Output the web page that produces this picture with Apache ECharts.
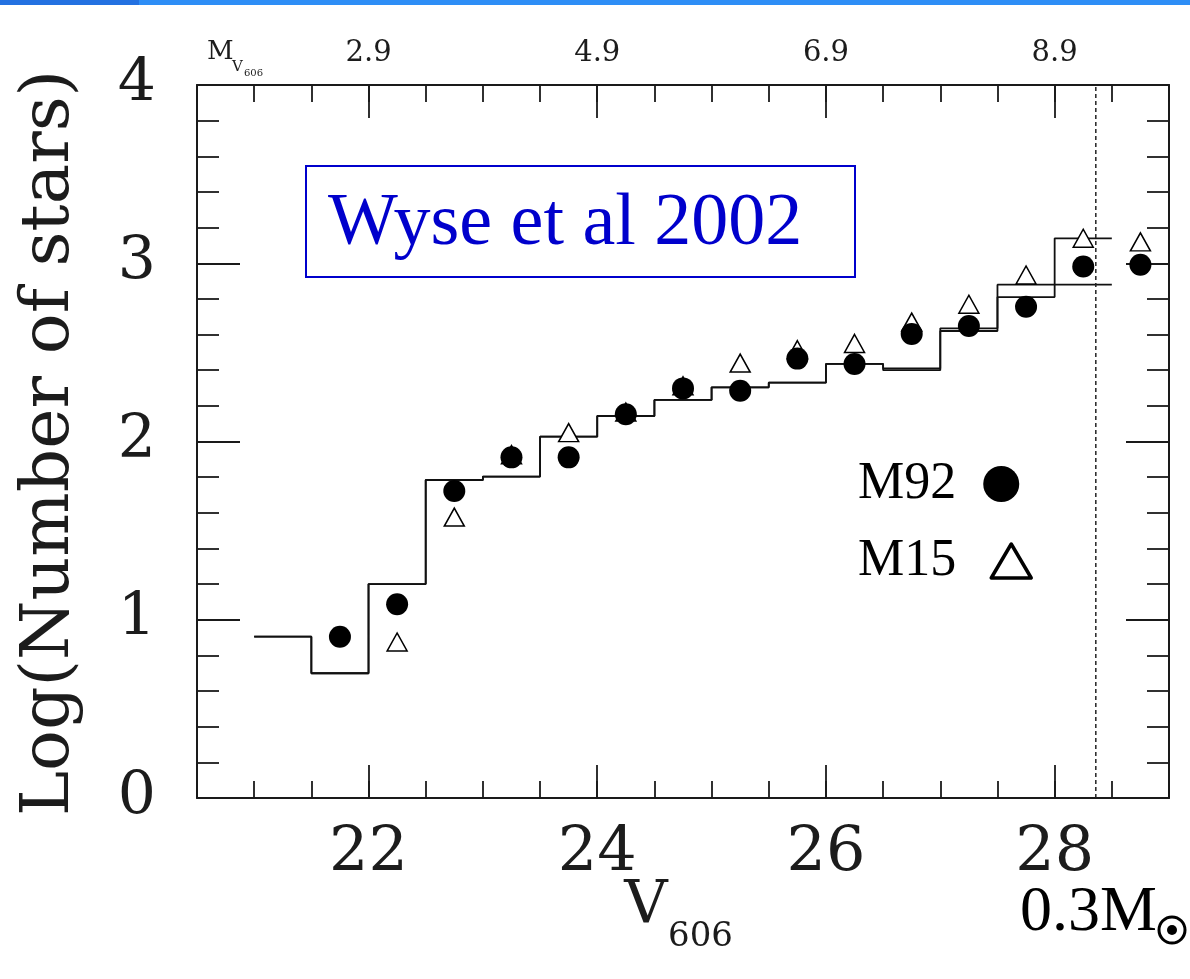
<!DOCTYPE html>
<html>
<head>
<meta charset="utf-8">
<script src="https://cdn.jsdelivr.net/npm/echarts@6/dist/echarts.min.js"></script>
<style>
  html, body { margin: 0; padding: 0; background: #ffffff; }
  #chart { width: 1190px; height: 979px; }
</style>
</head>
<body>
<div id="chart"></div>
<script>
// Bin centres (apparent V606 magnitude) of the observed luminosity functions
const binCentres = [21.75, 22.25, 22.75, 23.25, 23.75, 24.25, 24.75, 25.25, 25.75, 26.25, 26.75, 27.25, 27.75, 28.25, 28.75];
// log10 of star counts per bin
const m92LogN = [0.905, 1.087, 1.722, 1.911, 1.911, 2.153, 2.298, 2.285, 2.465, 2.435, 2.603, 2.648, 2.756, 2.982, 2.992];
const m15LogN = [null, 0.875, 1.576, 1.926, 2.05, 2.165, 2.312, 2.44, 2.515, 2.55, 2.67, 2.77, 2.934, 3.14, 3.12];

// Stepped comparison histograms: bin edges and level of each bin
const histEdges = [21, 21.5, 22, 22.5, 23, 23.5, 24, 24.5, 25, 25.5, 26, 26.5, 27, 27.5, 28, 28.5];
const histA = [0.905, 0.70, 1.20, 1.784, 1.803, 2.027, 2.143, 2.233, 2.304, 2.33, 2.435, 2.41, 2.635, 2.88, 2.88];
const histB = [0.905, 0.70, 1.20, 1.784, 1.803, 2.027, 2.143, 2.233, 2.304, 2.33, 2.435, 2.40, 2.62, 2.81, 3.14];

// Magnitude of a 0.3 solar-mass star
const massLimitV = 28.36;

// Tick values and labels
const xMajorTicks = [22, 24, 26, 28];
const xTickLabels = ['22', '24', '26', '28'];
const absMagLabels = ['2.9', '4.9', '6.9', '8.9'];
const yMajorTicks = [0, 1, 2, 3, 4];
const yTickLabels = ['0', '1', '2', '3', '4'];

const X_MIN = 20.5, X_MAX = 29;
const Y_MIN = 0, Y_MAX = 4;
const INK = '#1a1a1a';
const LABEL_INK = '#1c1c1c';
const PLOT_FONT = 'DejaVu Serif';
const SERIF = 'Liberation Serif';
const GRID = { left: 197, top: 85, width: 972, height: 713 };

function histPoints(levels) {
  return histEdges.map((e, i) => [e, levels[Math.min(i, levels.length - 1)]]);
}
function pairs(xs, ys) {
  const out = [];
  xs.forEach((x, i) => { if (ys[i] != null) out.push([x, ys[i]]); });
  return out;
}

const tickLine = { color: INK, width: 1.8 };

// grid 0 carries the frame, the fine ticks and the data; grid 1 the long ticks and labels
function minorX(pos) {
  return {
    gridIndex: 0, type: 'value', position: pos, min: X_MIN, max: X_MAX, interval: 0.5,
    axisLine: { show: true, onZero: false, lineStyle: { color: INK, width: 2 } },
    axisTick: { show: true, inside: true, length: 17, lineStyle: tickLine },
    axisLabel: { show: false }, splitLine: { show: false }
  };
}
function minorY(pos) {
  return {
    gridIndex: 0, type: 'value', position: pos, min: Y_MIN, max: Y_MAX, interval: 0.2,
    axisLine: { show: true, onZero: false, lineStyle: { color: INK, width: 2 } },
    axisTick: { show: true, inside: true, length: 22, lineStyle: tickLine },
    axisLabel: { show: false }, splitLine: { show: false }
  };
}

const chart = echarts.init(document.getElementById('chart'), null, { renderer: 'canvas' });

chart.setOption({
  backgroundColor: '#ffffff',
  animation: false,
  grid: [
    Object.assign({}, GRID, { containLabel: false }),
    Object.assign({}, GRID, { containLabel: false })
  ],
  xAxis: [
    minorX('bottom'),
    minorX('top'),
    {
      gridIndex: 1, type: 'value', position: 'bottom', min: X_MIN, max: X_MAX,
      axisLine: { show: false, onZero: false },
      axisTick: { show: true, inside: true, length: 33, customValues: xMajorTicks, lineStyle: tickLine },
      axisLabel: {
        customValues: xMajorTicks, margin: 25,
        formatter: v => xTickLabels[xMajorTicks.indexOf(v)],
        fontFamily: PLOT_FONT, fontSize: 62, color: LABEL_INK
      },
      splitLine: { show: false }
    },
    {
      gridIndex: 1, type: 'value', position: 'top', min: X_MIN, max: X_MAX,
      axisLine: { show: false, onZero: false },
      axisTick: { show: true, inside: true, length: 33, customValues: xMajorTicks, lineStyle: tickLine },
      axisLabel: {
        customValues: xMajorTicks, margin: 17,
        formatter: v => absMagLabels[xMajorTicks.indexOf(v)],
        fontFamily: PLOT_FONT, fontSize: 29, color: LABEL_INK
      },
      splitLine: { show: false }
    }
  ],
  yAxis: [
    minorY('left'),
    minorY('right'),
    {
      gridIndex: 1, type: 'value', position: 'left', min: Y_MIN, max: Y_MAX,
      axisLine: { show: false, onZero: false },
      axisTick: { show: true, inside: true, length: 43, customValues: yMajorTicks, lineStyle: tickLine },
      axisLabel: {
        customValues: yMajorTicks, margin: 41,
        formatter: v => yTickLabels[yMajorTicks.indexOf(v)],
        fontFamily: PLOT_FONT, fontSize: 60, color: LABEL_INK
      },
      splitLine: { show: false }
    },
    {
      gridIndex: 1, type: 'value', position: 'right', min: Y_MIN, max: Y_MAX,
      axisLine: { show: false, onZero: false },
      axisTick: { show: true, inside: true, length: 43, customValues: yMajorTicks, lineStyle: tickLine },
      axisLabel: { show: false },
      splitLine: { show: false }
    }
  ],
  legend: [
    {
      data: [{ name: 'M92', icon: 'circle', itemStyle: { color: '#000000', borderWidth: 0, opacity: 1 } }],
      orient: 'vertical', align: 'right', left: 858, top: 458, padding: 0,
      itemWidth: 36, itemHeight: 36, selectedMode: false,
      textStyle: { fontFamily: SERIF, fontSize: 52, lineHeight: 52, color: '#000', padding: [0, 22, 0, 0] }
    },
    {
      data: [{ name: 'M15', icon: 'triangle', itemStyle: { color: '#ffffff', borderColor: '#000000', borderWidth: 3.5, borderJoin: 'round', opacity: 1 } }],
      orient: 'vertical', align: 'right', left: 858, top: 535, padding: 0,
      itemWidth: 40, itemHeight: 34, selectedMode: false,
      textStyle: { fontFamily: SERIF, fontSize: 52, lineHeight: 52, color: '#000', padding: [0, 30, 0, 0] }
    }
  ],
  series: [
    {
      name: 'histA', type: 'line', xAxisIndex: 0, yAxisIndex: 0, step: 'end',
      data: histPoints(histA), symbol: 'none', silent: true, z: 2,
      lineStyle: { color: '#111', width: 1.8 }
    },
    {
      name: 'histB', type: 'line', xAxisIndex: 0, yAxisIndex: 0, step: 'end',
      data: histPoints(histB), symbol: 'none', silent: true, z: 2,
      lineStyle: { color: '#111', width: 1.8 }
    },
    {
      name: 'mass limit', type: 'line', xAxisIndex: 0, yAxisIndex: 0,
      data: [[massLimitV, Y_MIN], [massLimitV, Y_MAX]], symbol: 'none', silent: true, z: 5,
      lineStyle: { color: '#222', width: 1.5, type: [4, 3] }
    },
    {
      name: 'M15', type: 'scatter', xAxisIndex: 0, yAxisIndex: 0,
      data: pairs(binCentres, m15LogN), symbol: 'triangle', symbolSize: [20, 18], z: 3,
      itemStyle: { color: '#ffffff', borderColor: '#000000', borderWidth: 1.5, opacity: 1 }
    },
    {
      name: 'M92', type: 'scatter', xAxisIndex: 0, yAxisIndex: 0,
      data: pairs(binCentres, m92LogN), symbol: 'circle', symbolSize: 22, z: 4,
      itemStyle: { color: '#000000', opacity: 1 }
    }
  ],
  graphic: [
    // header strip
    { type: 'rect', left: 0, top: 0, shape: { width: 139, height: 5 }, style: { fill: '#2371e1' }, silent: true },
    { type: 'rect', left: 139, top: 0, shape: { width: 1051, height: 5 }, style: { fill: '#2e8ef6' }, silent: true },
    // citation box
    { type: 'rect', x: 306, y: 166, shape: { width: 549, height: 111 }, style: { fill: 'none', stroke: '#0000cc', lineWidth: 2 }, silent: true },
    { type: 'text', x: 328, y: 225, style: { text: 'Wyse et al 2002', fill: '#0000cc', font: '74px "Liberation Serif"', align: 'left', verticalAlign: 'middle' }, silent: true },
    // absolute magnitude axis title
    { type: 'text', x: 207, y: 52, style: { text: 'M', fill: LABEL_INK, font: '26px "DejaVu Serif"', align: 'left', verticalAlign: 'middle' }, silent: true },
    { type: 'text', x: 232, y: 67, style: { text: 'V', fill: LABEL_INK, font: '15px "DejaVu Serif"', align: 'left', verticalAlign: 'middle' }, silent: true },
    { type: 'text', x: 244, y: 73, style: { text: '606', fill: LABEL_INK, font: '10px "DejaVu Serif"', align: 'left', verticalAlign: 'middle' }, silent: true },
    // apparent magnitude axis title
    { type: 'text', x: 646, y: 907, style: { text: 'V', fill: LABEL_INK, font: '60px "DejaVu Serif"', align: 'center', verticalAlign: 'middle' }, silent: true },
    { type: 'text', x: 668, y: 937, style: { text: '606', fill: LABEL_INK, font: '34px "DejaVu Serif"', align: 'left', verticalAlign: 'middle' }, silent: true },
    // count axis title
    { type: 'text', x: 50, y: 443, rotation: Math.PI / 2, style: { text: 'Log(Number of stars)', fill: LABEL_INK, font: '68px "DejaVu Serif"', align: 'center', verticalAlign: 'middle' }, silent: true },
    // 0.3 solar mass marker
    { type: 'text', x: 1020, y: 913, style: { text: '0.3M', fill: '#000', font: '64px "Liberation Serif"', align: 'left', verticalAlign: 'middle' }, silent: true },
    { type: 'circle', shape: { cx: 1172, cy: 930, r: 13 }, style: { fill: 'none', stroke: '#000', lineWidth: 3 }, silent: true },
    { type: 'circle', shape: { cx: 1172, cy: 930, r: 5 }, style: { fill: '#000' }, silent: true }
  ]
});
</script>
</body>
</html>
